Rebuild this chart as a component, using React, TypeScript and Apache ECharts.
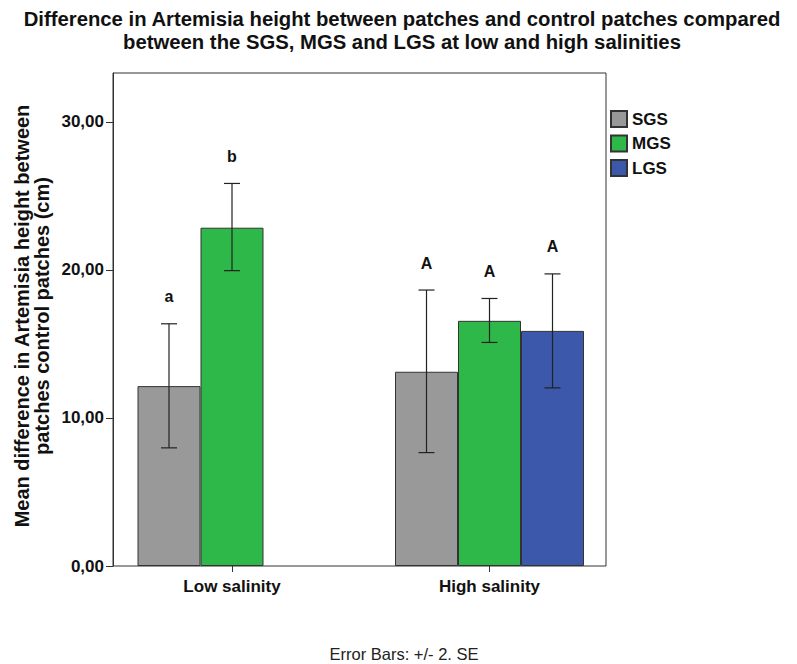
import React, { useEffect, useRef } from "react";
import * as echarts from "echarts";

const categories = ["Low salinity", "High salinity"];
const groupNames = ["SGS", "MGS", "LGS"];
const sgsMeans = [12.15, 13.12];
const mgsMeans = [22.85, 16.56];
const lgsMeans: (number | null)[] = [null, 15.88];
const sgsLow = [7.98, 7.66];
const sgsHigh = [16.36, 18.64];
const mgsLow = [19.95, 15.1];
const mgsHigh = [25.84, 18.07];
const lgsLow: (number | null)[] = [null, 12.03];
const lgsHigh: (number | null)[] = [null, 19.73];
const sgsLetters = ["a", "A"];
const mgsLetters = ["b", "A"];
const lgsLetters = ["", "A"];
const yTicks = [0, 10, 20, 30];

const colors = ["#999999", "#2eb84a", "#3c58aa"];
const FONT = "'Liberation Sans', Arial, sans-serif";

export default function App() {
  const ref = useRef<HTMLDivElement>(null);
  useEffect(() => {
    if (!ref.current) return;
    const chart = echarts.init(ref.current, null, { renderer: "svg" });
    const barW = 63;
    const plotL = 113, plotR = 606, plotT = 73, plotB = 566;
    const gridL = 103.25, gridR = 618.25;

    const errData: any[] = [];
    const lows = [sgsLow, mgsLow, lgsLow];
    const highs = [sgsHigh, mgsHigh, lgsHigh];
    const letters = [sgsLetters, mgsLetters, lgsLetters];
    for (let g = 0; g < 3; g++) {
      for (let c = 0; c < categories.length; c++) {
        if (lows[g][c] == null) continue;
        errData.push([c, lows[g][c], highs[g][c], g, letters[g][c]]);
      }
    }

    const bars = [sgsMeans, mgsMeans, lgsMeans].map((d, i) => ({
      type: "bar",
      name: groupNames[i],
      data: d.map((v) => (v == null ? "-" : v)),
      barWidth: barW,
      barGap: "0%",
      itemStyle: { color: colors[i], borderColor: "#333333", borderWidth: 1 },
      emphasis: { disabled: true },
    }));

    chart.setOption({
      animation: false,
      textStyle: { fontFamily: FONT },
      grid: {
        left: gridL,
        right: 797 - gridR,
        top: plotT,
        bottom: 664 - plotB,
        containLabel: false,
      },
      legend: {
        orient: "vertical",
        left: 610,
        top: 110,
        padding: 0,
        itemWidth: 16,
        itemHeight: 16,
        itemGap: 6.5,
        data: groupNames,
        textStyle: { fontFamily: FONT, fontWeight: "bold", fontSize: 17, color: "#111" },
        icon: "rect",
        selectedMode: false,
      },
      xAxis: {
        type: "category",
        data: categories,
        axisLine: { show: false },
        axisTick: { show: true, alignWithLabel: true, length: 6, lineStyle: { color: "#333" } },
        axisLabel: { fontFamily: FONT, fontWeight: "bold", fontSize: 17, color: "#111", margin: 12 },
        splitLine: { show: false },
      },
      yAxis: {
        type: "value",
        min: 0,
        max: 33.3,
        interval: 10,
        offset: -(plotL - gridL),
        axisLine: { show: true, lineStyle: { color: "#333" } },
        axisTick: { show: true, length: 7, lineStyle: { color: "#333" }, customValues: yTicks },
        axisLabel: {
          fontFamily: FONT,
          fontWeight: "bold",
          fontSize: 17,
          color: "#111",
          margin: 9,
          customValues: yTicks,
          formatter: (v: number) => v.toFixed(2).replace(".", ","),
        },
        splitLine: { show: false },
      },
      series: [
        ...bars,
        {
          type: "custom",
          name: "err",
          data: errData,
          z: 10,
          encode: { x: 0, y: [1, 2] },
          renderItem: (params: any, api: any) => {
            const c = api.value(0);
            const lo = api.value(1);
            const hi = api.value(2);
            const g = api.value(3);
            const letter = errData[params.dataIndex][4];
            const pLo = api.coord([c, lo]);
            const pHi = api.coord([c, hi]);
            const x = pLo[0] + (g - 1) * barW;
            const cap = 8;
            const ls = { stroke: "#222", lineWidth: 1.2 };
            return {
              type: "group",
              children: [
                { type: "line", shape: { x1: x, y1: pLo[1], x2: x, y2: pHi[1] }, style: ls },
                { type: "line", shape: { x1: x - cap, y1: pLo[1], x2: x + cap, y2: pLo[1] }, style: ls },
                { type: "line", shape: { x1: x - cap, y1: pHi[1], x2: x + cap, y2: pHi[1] }, style: ls },
                {
                  type: "text",
                  x: x,
                  y: pHi[1] - 27,
                  style: {
                    text: letter,
                    fill: "#111",
                    font: `bold 16px ${FONT}`,
                    textAlign: "center",
                    textVerticalAlign: "middle",
                  },
                },
              ],
            };
          },
        },
      ],
      graphic: [
        {
          type: "rect",
          shape: { x: plotL, y: plotT, width: plotR - plotL, height: plotB - plotT },
          style: { fill: "none", stroke: "#333", lineWidth: 1 },
          z: 5,
          silent: true,
        },
        {
          type: "text",
          x: 402,
          y: 7,
          style: {
            text: "Difference in Artemisia height between patches and control patches compared\nbetween the SGS, MGS and LGS at low and high salinities",
            font: `bold 20.3px ${FONT}`,
            fill: "#111",
            textAlign: "center",
            textVerticalAlign: "top",
            lineHeight: 23,
          },
        },
        {
          type: "text",
          x: 32,
          y: 316,
          rotation: Math.PI / 2,
          style: {
            text: "Mean difference in Artemisia height between\npatches control patches (cm)",
            font: `bold 20px ${FONT}`,
            fill: "#111",
            textAlign: "center",
            textVerticalAlign: "middle",
            lineHeight: 20,
          },
        },
        {
          type: "text",
          x: 404,
          y: 654,
          style: {
            text: "Error Bars: +/- 2. SE",
            font: `16.5px ${FONT}`,
            fill: "#222",
            textAlign: "center",
            textVerticalAlign: "middle",
          },
        },
      ],
    });
    return () => chart.dispose();
  }, []);
  return <div ref={ref} style={{ width: 797, height: 664, position: "absolute", left: 0, top: 0 }} />;
}
